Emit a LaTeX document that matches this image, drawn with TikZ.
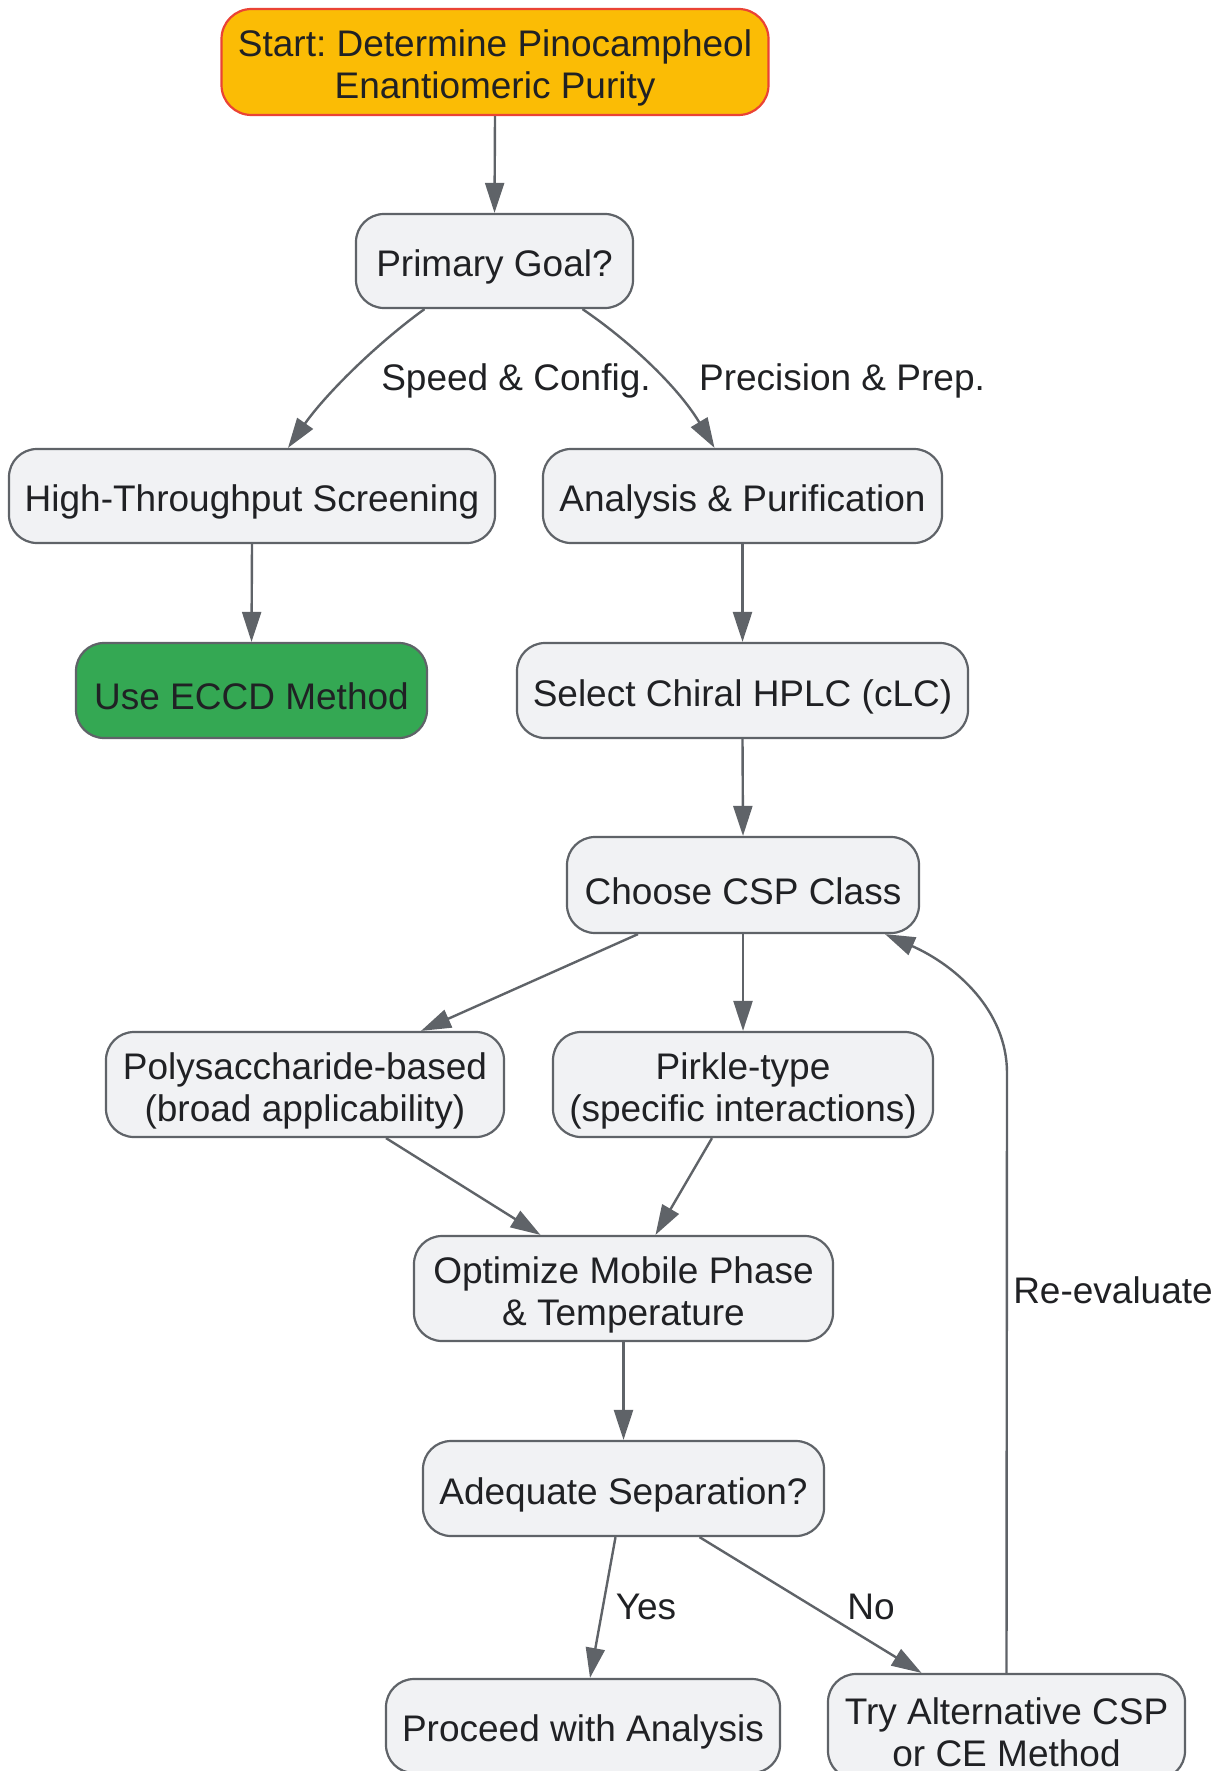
\documentclass[tikz,border=0pt]{standalone}
\usepackage{fontspec}
\setmainfont{Liberation Sans}
\frenchspacing
\usetikzlibrary{arrows.meta,calc}
\definecolor{cfill}{HTML}{F1F2F4}
\definecolor{cline}{HTML}{5F6368}
\definecolor{ctext}{HTML}{202124}
\definecolor{cyel}{HTML}{FBBC05}
\definecolor{cred}{HTML}{EA4335}
\definecolor{cgreen}{HTML}{34A853}
\tikzset{
  box/.style={draw=cline, fill=cfill, rounded corners=28pt, line width=2.2pt, inner sep=0pt},
  btext/.style={text=ctext, align=center, inner sep=0pt, font=\fontsize{37}{42}\selectfont},
  conn/.style={draw=cline, line width=2.4pt, -{Triangle[length=30pt,width=19pt]}},
  elabel/.style={text=ctext, font=\fontsize{37}{42}\selectfont, inner sep=0pt}
}
\newcommand\flownode[4]{%
  \node[box,#1] (#2) at (#3) {};
  \node[btext] (#2-t) at ([yshift=-6pt]#2.center) {#4};}
\begin{document}
\begin{tikzpicture}[x=1pt,y=-1pt]
\useasboundingbox (0,0) rectangle (1218,1771);
\flownode{fill=cyel, draw=cred, rounded corners=30pt, minimum width=547pt, minimum height=106pt}{start}{495,62}{Start: Determine Pinocampheol\\Enantiomeric Purity}
\flownode{minimum width=277pt, minimum height=94pt}{pg}{494.5,261}{Primary Goal?}
\flownode{minimum width=486pt, minimum height=94pt}{hts}{252,496}{High-Throughput Screening}
\flownode{minimum width=399pt, minimum height=94pt}{ap}{742.5,496}{Analysis \& Purification}
\flownode{fill=cgreen, minimum width=351pt, minimum height=95pt}{eccd}{251.5,690.5}{Use ECCD Method}
\flownode{minimum width=451pt, minimum height=95pt}{sel}{742.5,690.5}{Select Chiral HPLC (cLC)}
\flownode{minimum width=352pt, minimum height=96pt}{csp}{743,885}{Choose CSP Class}
\flownode{minimum width=398pt, minimum height=105pt}{poly}{305,1084.5}{Polysaccharide-based\\(broad applicability)}
\flownode{minimum width=380pt, minimum height=105pt}{pirk}{743,1084.5}{Pirkle-type\\(specific interactions)}
\flownode{minimum width=419pt, minimum height=105pt}{opt}{623.5,1288.5}{Optimize Mobile Phase\\\& Temperature}
\flownode{minimum width=401pt, minimum height=95pt}{adq}{623.5,1488.5}{Adequate Separation?}
\flownode{minimum width=394pt, minimum height=94pt}{proc}{583,1726}{Proceed with Analysis}
\flownode{minimum width=357pt, minimum height=105pt}{try}{1006.5,1726.5}{Try Alternative CSP\\or CE Method}

\draw[conn] (start.south) -- (pg.north);
\draw[conn] ([xshift=-70pt]pg.south) .. controls (375,345) and (325,395) .. ([xshift=36pt]hts.north);
\draw[conn] ([xshift=88pt]pg.south) .. controls (635,345) and (680,390) .. ([xshift=-28pt]ap.north);
\node[elabel] (l1) at (516,381) {Speed \& Config.};
\node[elabel] (l2) at (842,381) {Precision \& Prep.};
\draw[conn] (hts.south) -- (eccd.north);
\draw[conn] (ap.south) -- (sel.north);
\draw[conn] (sel.south) -- (csp.north);
\draw[conn] ([xshift=-105pt]csp.south) -- ([xshift=116pt]poly.north);
\draw[conn] (csp.south) -- (pirk.north);
\draw[conn] ([xshift=81pt]poly.south) -- ([xshift=-83pt]opt.north);
\draw[conn] ([xshift=-31pt]pirk.south) -- ([xshift=32pt]opt.north);
\draw[conn] (opt.south) -- (adq.north);
\draw[conn] ([xshift=-8pt]adq.south) -- ([xshift=7pt]proc.north);
\draw[conn] ([xshift=76pt]adq.south) -- ([xshift=-85pt]try.north);
\node[elabel] (l3) at (646,1607) {Yes};
\node[elabel] (l4) at (871,1607) {No};
\draw[conn] (try.north) -- (1007,1073) .. controls (1007,1010) and (955,965) .. ([xshift=142pt]csp.south);
\node[elabel] (l5) at (1113,1290) {Re-evaluate};
\end{tikzpicture}
\end{document}
